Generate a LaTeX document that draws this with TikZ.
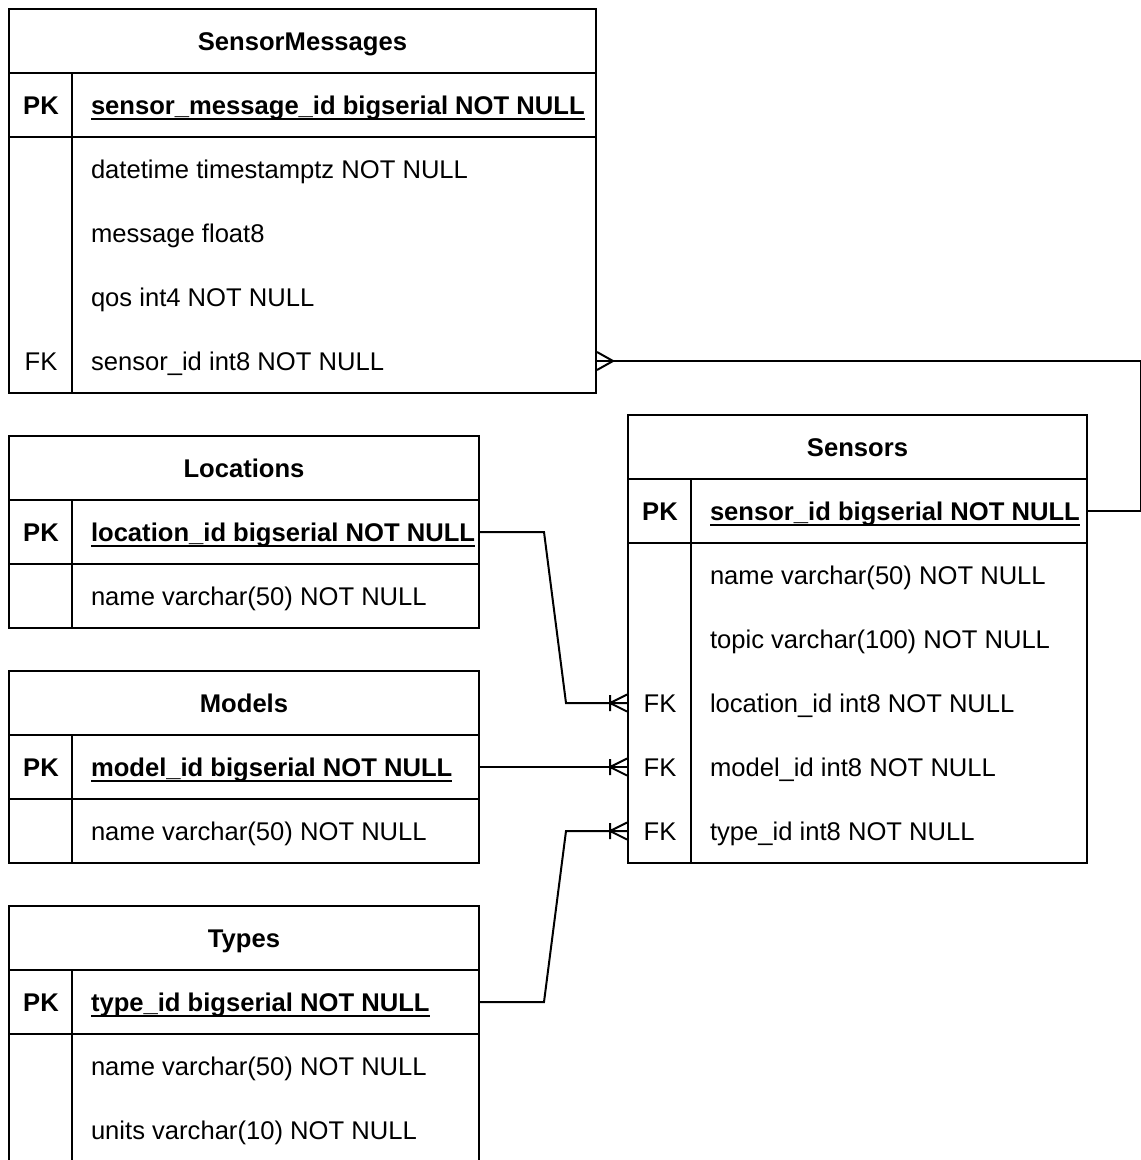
\documentclass[tikz,border=0pt]{standalone}
\usepackage{fontspec}
\setmainfont{Liberation Sans}
\usetikzlibrary{fit}
\newsavebox\ulbox
\newcommand\ulx[1]{\sbox\ulbox{#1}\rlap{\rule[-4.6pt]{\wd\ulbox}{1.5pt}}\usebox\ulbox}
\newcommand\crowto[1]{\draw[conn] (#1) ++(-17,0) -- ++(17,-8.5) (#1) ++(-17,0) -- ++(17,8.5) (#1) ++(-17,-8) -- ++(0,16);}
\begin{document}
\begin{tikzpicture}[x=0.75pt,y=-0.75pt,line width=1.5pt,
  cell/.style={draw, inner sep=0pt},
  area/.style={inner sep=0pt},
  tx/.style={anchor=base west, inner sep=0pt, font=\fontsize{19.2}{23}\selectfont},
  kx/.style={anchor=base, inner sep=0pt, font=\fontsize{19.2}{23}\selectfont},
  pkx/.style={anchor=base, inner sep=0pt, font=\fontsize{19.2}{23}\selectfont\bfseries},
  hd/.style={anchor=base, inner sep=0pt, font=\fontsize{19.2}{23}\selectfont\bfseries},
  conn/.style={line width=1.5pt}]
\clip (0,0) rectangle (1141,1160);
\fill[white] (0,0) rectangle (1141,1160);

% ---------- SensorMessages ----------
\node[cell, fit={(9,9)(596,73)}] (smH) {};
\node[hd] (smHt) at (302.5,50) {SensorMessages};
\node[cell, fit={(9,73)(596,137)}] (smPK) {};
\node[pkx] (smPKk) at (41,114) {PK};
\node[tx] (smPKt) at (90,114) {\bfseries\ulx{sensor\_message\_id bigserial NOT NULL}};
\node[cell, fit={(9,137)(596,393)}] (smBody) {};
\node[area, fit={(9,329)(596,393)}] (smFK) {};
\draw (smPK.north west) ++(64,0) -- ++(0,320);
\node[tx] (sm1) at (90,178) {datetime timestamptz NOT NULL};
\node[tx] (sm2) at (90,242) {message float8};
\node[tx] (sm3) at (90,306) {qos int4 NOT NULL};
\node[kx] (smFKk) at (41,370) {FK};
\node[tx] (sm4) at (90,370) {sensor\_id int8 NOT NULL};

% ---------- Locations ----------
\node[cell, fit={(9,436)(479,500)}] (locH) {};
\node[hd] (locHt) at (244,477) {Locations};
\node[cell, fit={(9,500)(479,564)}] (locPK) {};
\node[pkx] (locPKk) at (41,541) {PK};
\node[tx] (locPKt) at (90,541) {\bfseries\ulx{location\_id bigserial NOT NULL}};
\node[cell, fit={(9,564)(479,628)}] (locN) {};
\draw (locPK.north west) ++(64,0) -- ++(0,128);
\node[tx] (loc1) at (90,605) {name varchar(50) NOT NULL};

% ---------- Models ----------
\node[cell, fit={(9,671)(479,735)}] (modH) {};
\node[hd] (modHt) at (244,712) {Models};
\node[cell, fit={(9,735)(479,799)}] (modPK) {};
\node[pkx] (modPKk) at (41,776) {PK};
\node[tx] (modPKt) at (90,776) {\bfseries\ulx{model\_id bigserial NOT NULL}};
\node[cell, fit={(9,799)(479,863)}] (modN) {};
\draw (modPK.north west) ++(64,0) -- ++(0,128);
\node[tx] (mod1) at (90,840) {name varchar(50) NOT NULL};

% ---------- Types ----------
\node[cell, fit={(9,906)(479,970)}] (typH) {};
\node[hd] (typHt) at (244,947) {Types};
\node[cell, fit={(9,970)(479,1034)}] (typPK) {};
\node[pkx] (typPKk) at (41,1011) {PK};
\node[tx] (typPKt) at (90,1011) {\bfseries\ulx{type\_id bigserial NOT NULL}};
\node[cell, fit={(9,1034)(479,1164)}] (typBody) {};
\draw (typPK.north west) ++(64,0) -- ++(0,200);
\node[tx] (typ1) at (90,1075) {name varchar(50) NOT NULL};
\node[tx] (typ2) at (90,1139) {units varchar(10) NOT NULL};

% ---------- Sensors ----------
\node[cell, fit={(628,415)(1087,479)}] (sH) {};
\node[hd] (sHt) at (857.5,456) {Sensors};
\node[cell, fit={(628,479)(1087,543)}] (sPK) {};
\node[pkx] (sPKk) at (660,520) {PK};
\node[tx] (sPKt) at (709,520) {\bfseries\ulx{sensor\_id bigserial NOT NULL}};
\node[cell, fit={(628,543)(1087,863)}] (sBody) {};
\node[area, fit={(628,671)(1087,735)}] (sLoc) {};
\node[area, fit={(628,735)(1087,799)}] (sMod) {};
\node[area, fit={(628,799)(1087,863)}] (sTyp) {};
\draw (sPK.north west) ++(64,0) -- ++(0,384);
\node[tx] (s1) at (709,584) {name varchar(50) NOT NULL};
\node[tx] (s2) at (709,648) {topic varchar(100) NOT NULL};
\node[kx] (sFK1) at (660,712) {FK};
\node[tx] (s3) at (709,712) {location\_id int8 NOT NULL};
\node[kx] (sFK2) at (660,776) {FK};
\node[tx] (s4) at (709,776) {model\_id int8 NOT NULL};
\node[kx] (sFK3) at (660,840) {FK};
\node[tx] (s5) at (709,840) {type\_id int8 NOT NULL};

% ---------- Connectors ----------
\draw[conn] (smFK.east) -- ++(544,0) |- (sPK.east);
\draw[conn] (smFK.east) ++(0,-9) -- ++(16,9) -- ++(-16,9);

\draw[conn] (locPK.east) -- ++(64,0) -- (566,703) -- (sLoc.west);
\crowto{sLoc.west}
\draw[conn] (modPK.east) -- (sMod.west);
\crowto{sMod.west}
\draw[conn] (typPK.east) -- ++(64,0) -- (566,831) -- (sTyp.west);
\crowto{sTyp.west}
\end{tikzpicture}
\end{document}
